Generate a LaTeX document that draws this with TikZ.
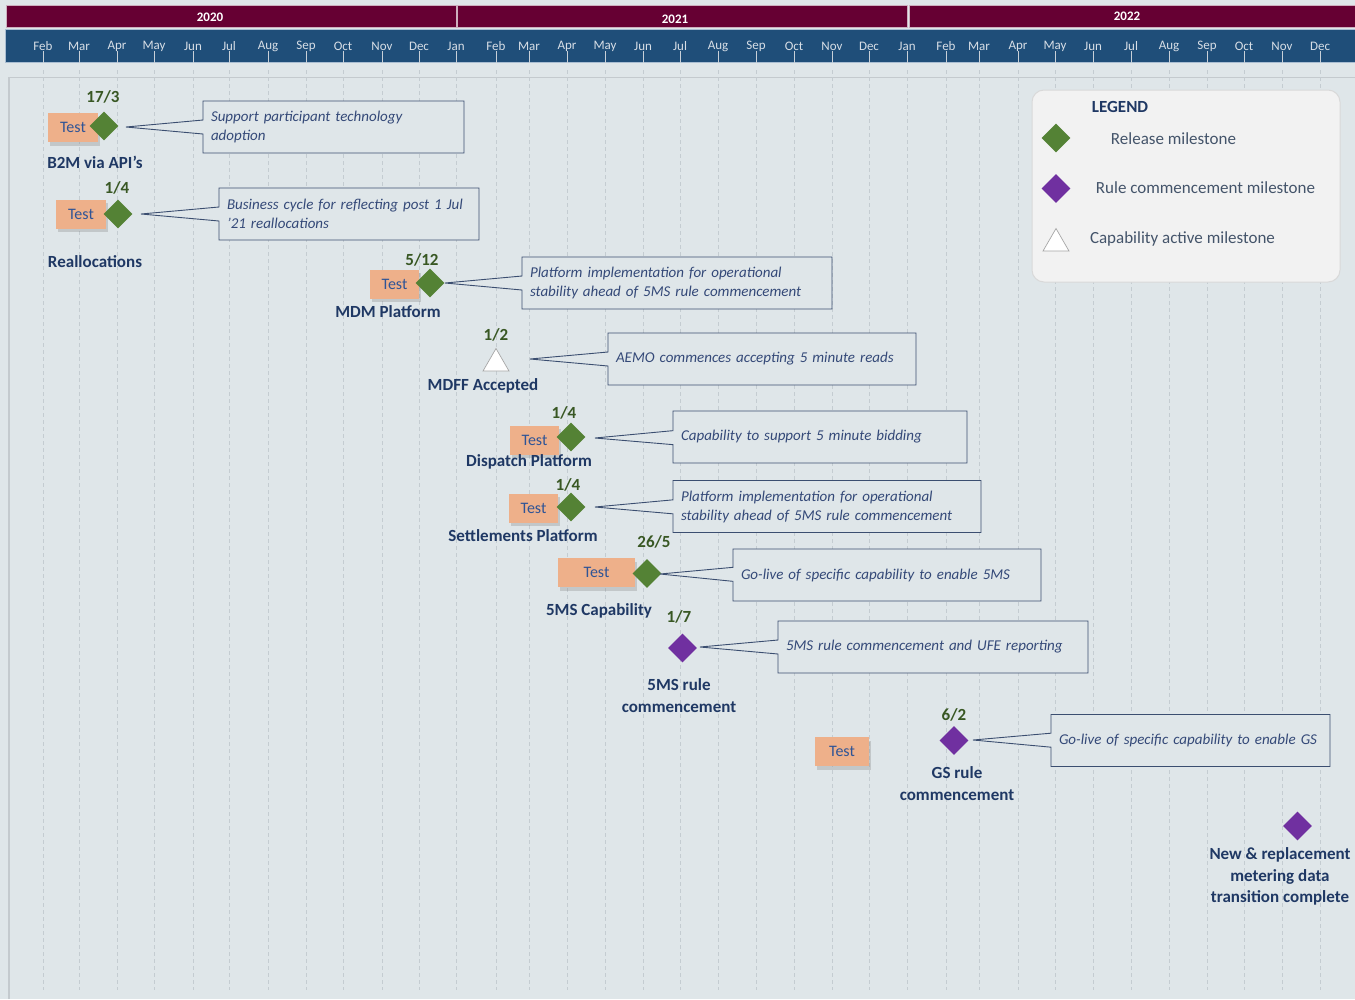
\documentclass[tikz,border=0pt]{standalone}
\usepackage{fontspec}
\setmainfont{Carlito}
\usetikzlibrary{shapes.geometric,shapes.callouts,shadows}

\definecolor{bgcol}{RGB}{223,230,233}
\definecolor{framecol}{RGB}{196,202,206}
\definecolor{yearcol}{RGB}{102,0,51}
\definecolor{monthcol}{RGB}{31,78,121}
\definecolor{gridcol}{RGB}{196,204,209}
\definecolor{testfill}{RGB}{238,176,138}
\definecolor{testtext}{RGB}{47,84,150}
\definecolor{relgreen}{RGB}{84,130,53}
\definecolor{dategreen}{RGB}{56,87,35}
\definecolor{rulepurple}{RGB}{112,48,160}
\definecolor{namenavy}{RGB}{31,56,100}
\definecolor{notetext}{RGB}{52,73,120}
\definecolor{noteline}{RGB}{59,78,112}
\definecolor{legtextcol}{RGB}{68,84,106}

\newcommand\yearfont{\fontsize{13}{15}\selectfont\bfseries}
\newcommand\monthfont{\fontsize{13}{15}\selectfont}
\newcommand\datefont{\fontsize{17}{20}\selectfont\bfseries}
\newcommand\msfont{\fontsize{17}{22}\selectfont\bfseries}
\newcommand\testfont{\fontsize{16}{18}\selectfont}
\newcommand\notefont{\fontsize{15}{19}\selectfont\itshape}
\newcommand\legfont{\fontsize{17}{20}\selectfont}

\tikzset{
  yearbar/.style={rectangle, fill=yearcol, draw={rgb,255:red,205;green,175;blue,190}, line width=0.8pt, minimum height=22pt, inner sep=0pt},
  yeartext/.style={font=\yearfont, text=white, inner sep=0pt},
  monthbar/.style={rectangle, fill=monthcol, draw={rgb,255:red,170;green,190;blue,210}, line width=0.6pt, minimum width=1350pt, minimum height=33.5pt, inner sep=0pt},
  monthtext/.style={font=\monthfont, text={rgb,255:red,215;green,222;blue,230}, inner sep=0pt},
  monthtick/.style={draw={rgb,255:red,200;green,208;blue,216}, line width=0.7pt},
  gridline/.style={draw=gridcol, line width=0.8pt, dash pattern=on 4pt off 3pt},
  testbox/.style={rectangle, fill=testfill, text=testtext, font=\testfont, minimum height=29pt, inner sep=0pt,
    drop shadow={shadow xshift=1.5pt, shadow yshift=-3.5pt, opacity=0.3}},
  releasems/.style={diamond, fill=relgreen, minimum width=29pt, minimum height=29pt, inner sep=0pt},
  rulems/.style={diamond, fill=rulepurple, minimum width=29pt, minimum height=29pt, inner sep=0pt},
  capms/.style={regular polygon, regular polygon sides=3, fill=white, draw=gray!70, line width=0.7pt, minimum size=30pt, inner sep=0pt},
  mdate/.style={font=\datefont, text=dategreen, inner sep=0pt},
  msname/.style={font=\msfont, text=namenavy, align=center, inner sep=0pt},
  note/.style={rectangle callout, draw=noteline, line width=0.9pt, fill=bgcol, font=\notefont, text=notetext,
    align=left, inner xsep=8pt, inner ysep=0pt, minimum height=52pt, callout pointer width=14pt},
  legendbox/.style={rectangle, rounded corners=12pt, fill={rgb,255:red,242;green,242;blue,242}, draw=gray!30, line width=1pt,
    minimum width=308pt, minimum height=192pt, inner sep=0pt},
  legtext/.style={font=\legfont, text=legtextcol, inner sep=0pt}
}

\begin{document}
\begin{tikzpicture}[x=1pt,y=-1pt]
    \useasboundingbox (0,0) rectangle (1355,999);
    \fill[bgcol] (0,0) rectangle (1355,999);

    % header
    \node[yearbar, minimum width=450pt] (bar2020) at (231,16.8) {};
    \node[yearbar, minimum width=450pt] (bar2021) at (682.3,16.8) {};
    \node[yearbar, minimum width=447pt] (bar2022) at (1133,16.8) {};
    \node[yeartext] (y2020) at (210,17.3) {2020};
    \node[yeartext] (y2021) at (675,19) {2021};
    \node[yeartext] (y2022) at (1127,16) {2022};
    \node[monthbar] (months) at (680,46) {};

    % chart frame
    \draw[framecol, line width=1.2pt] (9,999) -- (9,77.5) -- (1355,77.5);

    \foreach \x/\m [count=\i] in {43/Feb,79/Mar,117/Apr,154/May,193/Jun,229/Jul,268/Aug,306/Sep,343/Oct,382/Nov,419/Dec,
        456/Jan,496/Feb,529/Mar,567/Apr,605/May,643/Jun,680/Jul,718/Aug,756/Sep,794/Oct,832/Nov,869/Dec,
        907/Jan,946/Feb,979/Mar,1018/Apr,1055/May,1093/Jun,1131/Jul,1169/Aug,1207/Sep,1244/Oct,1282/Nov,1320/Dec}{
        \draw[gridline] (\x,70) -- (\x,990);
        \draw[monthtick] (\x,51) -- (\x,62.5);
        \node[monthtext] (mon\i) at (\x,46) {\m};
    }

    % legend
    \node[legendbox] (legend) at (1186,186) {};
    \node[legtext, font=\legfont\bfseries, text=namenavy] (legtitle) at (1120,107) {LEGEND};
    \node[releasems] (legrel) at (1056,138) {};
    \node[legtext] (legreltext) at (1173.5,139) {Release milestone};
    \node[rulems] (legrule) at (1056,188.5) {};
    \node[legtext] (legruletext) at (1205.5,188) {Rule commencement milestone};
    \node[capms] (legcap) at (1056,243.5) {};
    \node[legtext] (legcaptext) at (1182.5,239) {Capability active milestone};

    % B2M via API's
    \node[testbox, minimum width=50pt] (b2mtest) at (73,127.5) {Test};
    \node[releasems] (b2m) at (104,126) {};
    \node[mdate] (b2mdate) at (103,97) {17/3};
    \node[msname] (b2mname) at (95,162) {B2M via API’s};
    \coordinate (b2mtip) at (126,127);
    \node[note, text width=245pt, callout absolute pointer={(b2mtip)}] (b2mnote) at (333.5,127)
        {Support participant technology\\adoption};

    % Reallocations
    \node[testbox, minimum width=50pt] (realtest) at (81,214) {Test};
    \node[releasems] (real) at (118,214) {};
    \node[mdate] (realdate) at (117,188) {1/4};
    \node[msname] (realname) at (95,262) {Reallocations};
    \coordinate (realtip) at (141,214);
    \node[note, text width=244pt, callout absolute pointer={(realtip)}] (realnote) at (349,214)
        {Business cycle for reflecting post 1 Jul\\’21 reallocations};

    % MDM Platform
    \node[testbox, minimum width=49pt] (mdmtest) at (394.5,284) {Test};
    \node[releasems] (mdm) at (430,283) {};
    \node[mdate] (mdmdate) at (422,260) {5/12};
    \node[msname] (mdmname) at (388,312) {MDM Platform};
    \coordinate (mdmtip) at (445,283);
    \node[note, text width=294pt, callout absolute pointer={(mdmtip)}] (mdmnote) at (677,283)
        {Platform implementation for operational\\stability ahead of 5MS rule commencement};

    % MDFF Accepted
    \node[capms] (mdff) at (496,363.5) {};
    \node[mdate] (mdffdate) at (496,335) {1/2};
    \node[msname] (mdffname) at (483,386) {MDFF Accepted};
    \coordinate (mdfftip) at (530,359);
    \node[note, text width=292pt, callout absolute pointer={(mdfftip)}] (mdffnote) at (762,359)
        {AEMO commences accepting 5 minute reads};

    % Dispatch Platform
    \node[testbox, minimum width=49pt] (disptest) at (534.5,440) {Test};
    \node[releasems] (disp) at (571,437) {};
    \node[mdate] (dispdate) at (564,413) {1/4};
    \node[msname] (dispname) at (529,462) {Dispatch Platform};
    \coordinate (disptip) at (595,438);
    \node[note, text width=278pt, callout absolute pointer={(disptip)}] (dispnote) at (820,437)
        {Capability to support 5 minute bidding};

    % Settlements Platform
    \node[testbox, minimum width=49pt] (setttest) at (533.5,508) {Test};
    \node[releasems] (sett) at (571,507) {};
    \node[mdate] (settdate) at (568,485) {1/4};
    \node[msname] (settname) at (523,536) {Settlements Platform};
    \coordinate (setttip) at (595,507);
    \node[note, text width=292pt, callout absolute pointer={(setttip)}] (settnote) at (827,506.5)
        {Platform implementation for operational\\stability ahead of 5MS rule commencement};

    % 5MS Capability
    \node[testbox, minimum width=77pt] (captest) at (596.5,572.5) {Test};
    \node[releasems] (cap) at (647,573.5) {};
    \node[mdate] (capdate) at (654,542) {26/5};
    \node[msname] (capname) at (599,611) {5MS Capability};
    \coordinate (captip) at (660,574);
    \node[note, text width=292pt, callout absolute pointer={(captip)}] (capnote) at (887,575)
        {Go-live of specific capability to enable 5MS};

    % 5MS rule commencement
    \node[rulems] (rule) at (682.5,648) {};
    \node[mdate] (ruledate) at (679,617) {1/7};
    \node[msname] (rulename) at (679,696) {5MS rule\\commencement};
    \coordinate (ruletip) at (700,647);
    \node[note, text width=294pt, callout absolute pointer={(ruletip)}] (rulenote) at (933,647)
        {5MS rule commencement and UFE reporting};

    % GS rule commencement
    \node[testbox, minimum width=54pt] (gstest) at (842,751.5) {Test};
    \node[rulems] (gs) at (954,740.5) {};
    \node[mdate] (gsdate) at (954,715) {6/2};
    \node[msname] (gsname) at (957,784) {GS rule\\commencement};
    \coordinate (gstip) at (973,740);
    \node[note, text width=263pt, callout absolute pointer={(gstip)}] (gsnote) at (1190.5,740.5)
        {Go-live of specific capability to enable GS};

    % New & replacement metering data
    \node[rulems] (newrep) at (1297.5,826) {};
    \node[msname, font=\fontsize{17}{21.5}\selectfont\bfseries] (newrepname) at (1280,876.5)
        {New \& replacement\\metering data\\transition complete};
\end{tikzpicture}
\end{document}
